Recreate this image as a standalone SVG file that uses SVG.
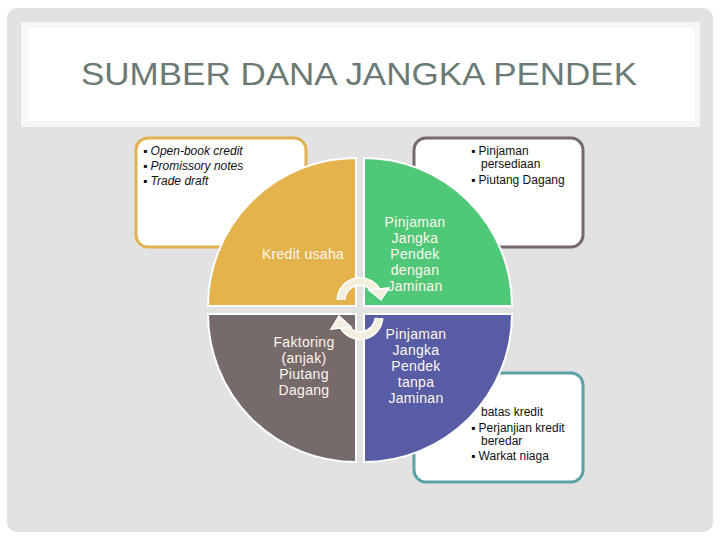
<svg xmlns="http://www.w3.org/2000/svg" width="720" height="540" viewBox="0 0 720 540">
<style>
.box{fill:#fff;stroke-width:3}
.q{stroke:#fff;stroke-width:2}
.qt{font-family:"Liberation Sans",Arial,sans-serif;font-size:14px;fill:#fdf8ee;text-anchor:middle;letter-spacing:0.3px}
.bt{font-family:"Liberation Sans",Arial,sans-serif;font-size:12px;fill:#111}
.arcw{fill:none;stroke:#fff;stroke-width:9}
.arcc{fill:none;stroke:#f3eedd;stroke-width:6}
</style>
<rect x="0" y="0" width="720" height="540" fill="#fff"/>
<rect x="7" y="8" width="706" height="524" rx="10" fill="#e2e2e2"/>
<rect x="21" y="22" width="679" height="105" fill="#f7f7f7"/>
<rect x="28" y="28" width="666" height="93" fill="#fff"/>
<text x="359" y="85" font-family="Liberation Sans,Arial,sans-serif" font-size="31" fill="#6b7a75" text-anchor="middle" textLength="556" lengthAdjust="spacingAndGlyphs">SUMBER DANA JANGKA PENDEK</text>

<g id="box-tl">
<rect class="box" x="136" y="138" width="170" height="109" rx="12" stroke="#e0b252"/>
<text class="bt" font-style="italic"><tspan x="143" y="155">▪ Open-book credit</tspan><tspan x="143" y="170">▪ Promissory notes</tspan><tspan x="143" y="185">▪ Trade draft</tspan></text>
</g>
<g id="box-tr">
<rect class="box" x="414" y="138" width="169" height="109" rx="12" stroke="#756b6c"/>
<text class="bt"><tspan x="471" y="155">▪ Pinjaman</tspan><tspan x="481" y="168">persediaan</tspan><tspan x="471" y="184">▪ Piutang Dagang</tspan></text>
</g>
<g id="box-br">
<rect class="box" x="414" y="373" width="169" height="109" rx="12" stroke="#5aa2aa"/>
<text class="bt"><tspan x="481" y="416">batas kredit</tspan><tspan x="471" y="432">▪ Perjanjian kredit</tspan><tspan x="481" y="445">beredar</tspan><tspan x="471" y="460">▪ Warkat niaga</tspan></text>
</g>

<g id="q-tl">
<path class="q" d="M356,306 L208,306 A148,148 0 0 1 356,158 Z" fill="#e4b34c"/>
<text class="qt" x="303" y="259">Kredit usaha</text>
</g>
<g id="q-tr">
<path class="q" d="M364,306 L364,158 A148,148 0 0 1 512,306 Z" fill="#4fc878"/>
<text class="qt"><tspan x="415" y="227">Pinjaman</tspan><tspan x="415" y="243">Jangka</tspan><tspan x="415" y="259">Pendek</tspan><tspan x="415" y="275">dengan</tspan><tspan x="415" y="291">Jaminan</tspan></text>
</g>
<g id="q-bl">
<path class="q" d="M356,314 L356,462 A148,148 0 0 1 208,314 Z" fill="#766a6b"/>
<text class="qt"><tspan x="304" y="347">Faktoring</tspan><tspan x="304" y="363">(anjak)</tspan><tspan x="304" y="379">Piutang</tspan><tspan x="304" y="395">Dagang</tspan></text>
</g>
<g id="q-br">
<path class="q" d="M364,314 L512,314 A148,148 0 0 1 364,462 Z" fill="#585ca5"/>
<text class="qt"><tspan x="416" y="339">Pinjaman</tspan><tspan x="416" y="355">Jangka</tspan><tspan x="416" y="371">Pendek</tspan><tspan x="416" y="387">tanpa</tspan><tspan x="416" y="403">Jaminan</tspan></text>
</g>

<g id="connectors">
<path class="arcw" d="M341,300 A19,19 0 0 1 377,292"/>
<path class="arcc" d="M341,300 A19,19 0 0 1 377,292"/>
<polygon points="369,290 389,288 381,300" fill="#f3eedd" stroke="#fff" stroke-width="1.5"/>
<path class="arcw" d="M379,318 A19,19 0 0 1 343,325"/>
<path class="arcc" d="M379,318 A19,19 0 0 1 343,325"/>
<polygon points="351,327 331,329 339,316" fill="#f3eedd" stroke="#fff" stroke-width="1.5"/>
</g>
</svg>
